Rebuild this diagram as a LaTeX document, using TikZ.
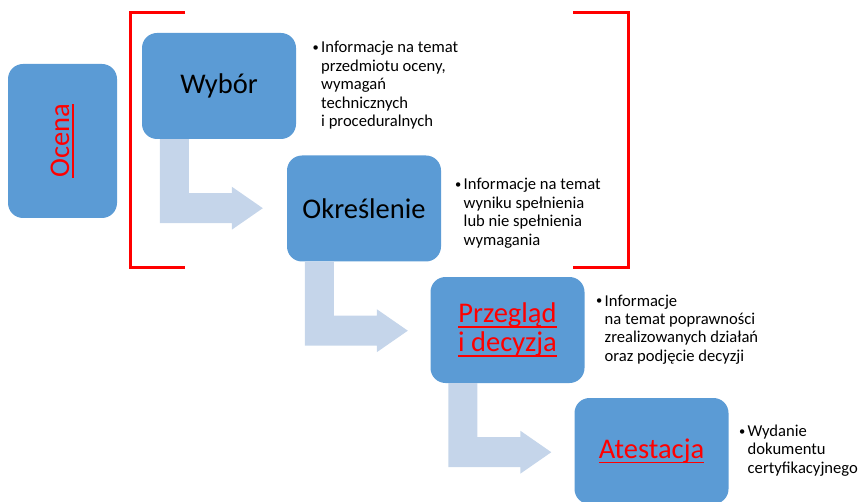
\documentclass[tikz,border=0pt]{standalone}
\usepackage{fontspec}
\setmainfont{Carlito}
\definecolor{boxblue}{HTML}{5B9BD5}
\definecolor{flowblue}{HTML}{C5D5EA}
\definecolor{markred}{HTML}{FF0000}
% red text with a heavy underline
\newcommand\redul[1]{\setbox0=\hbox{#1}\leavevmode\rlap{\rule[-5pt]{\wd0}{1.8pt}}\box0}
% bulleted description block, first baseline is the box baseline
\newcommand\infolist[1]{\begin{tabular}[t]{@{}l@{}l@{}}#1\end{tabular}}
\newcommand\bul{\makebox[8.5pt][l]{\raisebox{1.4pt}{\fontsize{12.5}{12.5}\selectfont\textbullet}}}
% bent flow arrow leaving the bottom of a stage box
\newcommand\bentflow[2]{\fill[flowblue] ([xshift=18pt]#1.south west) -- ++(29,0) -- ++(0,54)
  -- ++(43,0) -- ++(0,-6.5) -- ++(31,21.5) coordinate (#2) -- ++(-31,21.5) -- ++(0,-6.5)
  -- ++(-72,0) -- cycle;}
\begin{document}
\begin{tikzpicture}[x=1pt,y=-1pt,
  stage/.style={fill=boxblue, rounded corners=15pt, minimum width=154pt,
    minimum height=106pt, inner sep=0pt, align=center,
    font=\fontsize{28.5}{29}\selectfont},
  redtitle/.style={text=markred},
  info/.style={anchor=base west, inner sep=0pt, font=\fontsize{16.6}{18.4}\selectfont},
  bracket/.style={draw=markred, line width=3pt, miter limit=10}]
\useasboundingbox (0,0) rectangle (858,502);

% stage boxes
\node[stage, minimum width=109pt, minimum height=154pt] (ocena) at (62.5,141) {};
\node[rotate=90, redtitle, inner sep=0pt, font=\fontsize{28.5}{29}\selectfont] (ocenatxt) at (ocena.center) {\redul{Ocena}};
\node[stage] (wybor) at (219,86) {Wybór};
\node[stage] (okr) at (364,208.5) {Określenie};
\node[stage, redtitle] (przeglad) at (507.5,330) {\redul{Przegląd}\\\redul{i decyzja}};
\node[stage, redtitle] (atest) at (651.5,451) {\redul{Atestacja}};

% flow arrows between stages
\bentflow{wybor}{tip1}
\bentflow{okr}{tip2}
\bentflow{przeglad}{tip3}

% descriptions
\node[info] (dwybor) at (312.5,53) {\infolist{\bul & Informacje na temat\\ & przedmiotu oceny,\\ & wymagań\\ & technicznych\\ & i proceduralnych}};
\node[info] (dokr) at (455,190) {\infolist{\bul & Informacje na temat\\ & wyniku spełnienia\\ & lub nie spełnienia\\ & wymagania}};
\node[info] (dprz) at (596,306) {\infolist{\bul & Informacje\\ & na temat poprawności\\ & zrealizowanych działań\\ & oraz podjęcie decyzji}};
\node[info] (datest) at (739,436.5) {\infolist{\bul & Wydanie\\ & dokumentu\\ & certyfikacyjnego}};

% brackets around the first two stages
\coordinate (lbt) at (185,13);
\coordinate (lbb) at (185,268);
\coordinate (rbt) at (573,13);
\coordinate (rbb) at (573,268);
\draw[bracket] (lbt) -- (130,13) -- (130,268) -- (lbb);
\draw[bracket] (rbt) -- (628,13) -- (628,268) -- (rbb);
\end{tikzpicture}
\end{document}
